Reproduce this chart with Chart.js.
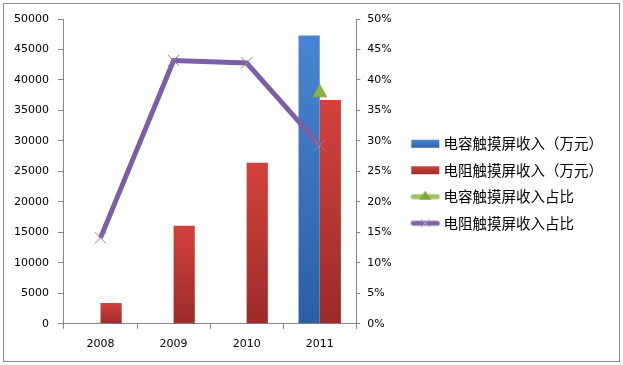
<!DOCTYPE html>
<html>
<head>
<meta charset="utf-8">
<script src="https://cdn.jsdelivr.net/npm/chart.js@4"></script>
<style>
body { margin:0; background:#fff; }
#wrap { position:relative; width:623px; height:365px; }
#frame { position:absolute; left:3px; top:3px; width:615px; height:357px; border:1px solid #8c8c8c; pointer-events:none; }
</style>
</head>
<body>
<div id="wrap">
<canvas id="myChart" width="623" height="365"></canvas>
<div id="frame"></div>
</div>
<script>
// data
var years = ['2008', '2009', '2010', '2011'];
var capRevenue = [null, null, null, 47300];      // 电容触摸屏收入（万元）
var resRevenue = [3400, 16100, 26400, 36700];     // 电阻触摸屏收入（万元）
var capShare = [null, null, null, 37.9];          // 电容触摸屏收入占比 %
var resShare = [14.1, 43.2, 42.8, 29.3];          // 电阻触摸屏收入占比 %
var leftTicks = [0, 5000, 10000, 15000, 20000, 25000, 30000, 35000, 40000, 45000, 50000];
var rightTicks = [0, 5, 10, 15, 20, 25, 30, 35, 40, 45, 50];

var labelNames = ['电容触摸屏收入（万元）', '电阻触摸屏收入（万元）', '电容触摸屏收入占比', '电阻触摸屏收入占比'];

//gradient for each bar, lighter on top
function barGradient(top, bottom) {
  return function (c) {
    var chart = c.chart;
    if (!chart.chartArea || c.raw == null) return top;
    var y = chart.scales.y;
    var y0 = y.getPixelForValue(c.raw), y1 = y.getPixelForValue(0);
    if (!isFinite(y0) || y1 - y0 < 1) return top;
    var g = chart.ctx.createLinearGradient(0, y0, 0, y1);
    g.addColorStop(0, top);
    g.addColorStop(1, bottom);
    return g;
  };
}

// small pictures for the legend (36 wide, mark drawn from 6 to 34)
function swatch(kind, color) {
  var cv = document.createElement('canvas');
  cv.width = 36; cv.height = 14;
  var c = cv.getContext('2d');
  if (kind == 'bar') {
    var g = c.createLinearGradient(0, 3, 0, 11);
    g.addColorStop(0, color[0]); g.addColorStop(1, color[1]);
    c.fillStyle = g;
    c.fillRect(5, 3, 28, 8);
  } else {
    c.strokeStyle = color[0];
    c.lineWidth = 5; c.lineCap = 'round';
    c.beginPath(); c.moveTo(7, 7); c.lineTo(31, 7); c.stroke();
    if (kind == 'tri') {
      c.fillStyle = color[1];
      c.beginPath(); c.moveTo(19, 1); c.lineTo(25, 10); c.lineTo(13, 10); c.closePath(); c.fill();
    } else {
      c.strokeStyle = color[1]; c.lineWidth = 1;
      c.beginPath(); c.moveTo(15, 3); c.lineTo(23, 11); c.moveTo(23, 3); c.lineTo(15, 11); c.stroke();
    }
  }
  return cv;
}
var legendPics = [
  swatch('bar', ['#4a86d2', '#2d62a8']),
  swatch('bar', ['#d0413d', '#a02c2b']),
  swatch('tri', ['#a4c160', '#7fa63a']),
  swatch('x', ['#8066a8', '#b4a6c8'])
];

var tickFont = { family: 'DejaVu Sans', size: 11 };

// nudge the legend a little upwards, like the original
var legendShift = {
  id: 'legendShift',
  afterLayout: function (chart) {
    chart.legend.top -= 6;
    chart.legend.bottom -= 6;
  }
};

var ctx = document.getElementById('myChart').getContext('2d');
var myChart = new Chart(ctx, {
  data: {
    labels: years,
    datasets: [
      {
        type: 'line', label: labelNames[3], data: resShare, yAxisID: 'y1',
        borderColor: '#7b5ea6', borderWidth: 5, tension: 0,
        pointStyle: 'crossRot', pointRadius: 8, pointBorderColor: '#8a80a0', pointBorderWidth: 1,
        order: 1
      },
      {
        type: 'line', label: labelNames[2], data: capShare, yAxisID: 'y1',
        borderColor: '#9bbb59', backgroundColor: '#8db444', showLine: false,
        pointStyle: 'triangle', pointRadius: 8, pointBorderColor: '#7fa63a', pointBorderWidth: 1,
        order: 0
      },
      {
        type: 'bar', label: labelNames[0], data: capRevenue, yAxisID: 'y',
        backgroundColor: barGradient('#4785d2', '#2c5fa3'),
        categoryPercentage: 0.58, barPercentage: 1, order: 2
      },
      {
        type: 'bar', label: labelNames[1], data: resRevenue, yAxisID: 'y',
        backgroundColor: barGradient('#d3413c', '#9c2b2a'),
        categoryPercentage: 0.58, barPercentage: 1, order: 3
      }
    ]
  },
  options: {
    responsive: false,
    animation: false,
    layout: { padding: { left: 5, right: 10, top: 19, bottom: 5 } },
    scales: {
      x: {
        offset: true,
        grid: { offset: true, drawOnChartArea: false, drawTicks: true, tickLength: 5, color: '#868686' },
        border: { display: true, color: '#868686' },
        ticks: { color: '#000', font: tickFont, padding: 9 }
      },
      y: {
        position: 'left', min: 0, max: 50000,
        afterBuildTicks: function (ax) { ax.ticks = leftTicks.map(function (v) { return { value: v }; }); },
        grid: { drawOnChartArea: false, drawTicks: true, tickLength: 6, color: '#868686' },
        border: { display: true, color: '#868686' },
        ticks: { color: '#000', font: tickFont, padding: 9,
          callback: function (v) { return String(v); } }
      },
      y1: {
        position: 'right', min: 0, max: 50,
        afterBuildTicks: function (ax) { ax.ticks = rightTicks.map(function (v) { return { value: v }; }); },
        afterFit: function (ax) { ax.width = 44; },
        grid: { drawOnChartArea: false, drawTicks: true, tickLength: 4, color: '#868686' },
        border: { display: true, color: '#868686' },
        ticks: { color: '#000', font: tickFont, padding: 7,
          callback: function (v) { return v + '%'; } }
      }
    },
    plugins: {
      legend: {
        position: 'right',
        maxWidth: 240,
        labels: {
          usePointStyle: true, pointStyleWidth: 24, boxHeight: 14,
          padding: 12, color: '#000',
          font: { family: 'Noto Sans CJK SC', size: 14.5 },
          generateLabels: function (chart) {
            var items = Chart.defaults.plugins.legend.labels.generateLabels(chart);
            items.forEach(function (it) {
              var i = labelNames.indexOf(it.text);
              it.pointStyle = legendPics[i];
              it._order = i;
            });
            items.sort(function (a, b) { return a._order - b._order; });
            return items;
          }
        }
      },
      tooltip: { enabled: false }
    }
  },
  plugins: [legendShift]
});
</script>
</body>
</html>
